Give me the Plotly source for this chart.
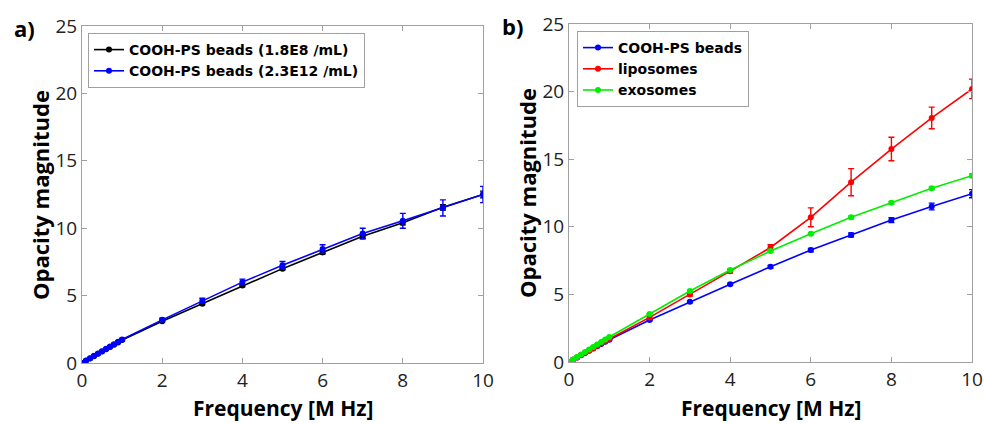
import plotly.graph_objects as go

freq = [0, 0.1, 0.2, 0.3, 0.4, 0.5, 0.6, 0.7, 0.8, 0.9, 1, 2, 3, 4, 5, 6, 7, 8, 9, 10]

# Panel a
beads_low = [0.0, 0.17, 0.34, 0.51, 0.68, 0.85, 1.02, 1.19, 1.36, 1.53, 1.7, 3.1, 4.4, 5.75, 7.0, 8.2, 9.4, 10.4, 11.55, 12.5]
beads_low_err = [0.02, 0.02, 0.02, 0.02, 0.02, 0.03, 0.03, 0.03, 0.03, 0.03, 0.04, 0.05, 0.08, 0.1, 0.1, 0.12, 0.15, 0.15, 0.2, 0.25]
beads_high = [0.0, 0.18, 0.35, 0.53, 0.7, 0.88, 1.05, 1.22, 1.4, 1.57, 1.75, 3.2, 4.62, 6.0, 7.25, 8.45, 9.6, 10.55, 11.5, 12.5]
beads_high_err = [0.03, 0.03, 0.03, 0.04, 0.04, 0.05, 0.05, 0.05, 0.06, 0.06, 0.07, 0.12, 0.18, 0.22, 0.28, 0.32, 0.4, 0.55, 0.6, 0.6]

# Panel b
beads_b = [0.0, 0.17, 0.34, 0.5, 0.67, 0.83, 1.0, 1.16, 1.33, 1.5, 1.65, 3.1, 4.45, 5.75, 7.05, 8.28, 9.4, 10.5, 11.5, 12.45]
beads_b_err = [0.02, 0.02, 0.02, 0.02, 0.02, 0.02, 0.03, 0.03, 0.03, 0.03, 0.03, 0.05, 0.07, 0.08, 0.1, 0.12, 0.15, 0.18, 0.25, 0.3]
lipo = [0.0, 0.17, 0.34, 0.51, 0.68, 0.85, 1.02, 1.19, 1.36, 1.53, 1.7, 3.3, 5.0, 6.72, 8.47, 10.7, 13.3, 15.75, 18.05, 20.2]
lipo_err = [0.02, 0.02, 0.02, 0.02, 0.03, 0.03, 0.03, 0.03, 0.04, 0.04, 0.04, 0.1, 0.12, 0.15, 0.2, 0.7, 1.0, 0.87, 0.8, 0.72]
exo = [0.0, 0.19, 0.37, 0.56, 0.74, 0.93, 1.11, 1.3, 1.48, 1.67, 1.85, 3.55, 5.25, 6.8, 8.21, 9.49, 10.7, 11.78, 12.85, 13.78]
exo_err = [0.02, 0.02, 0.02, 0.02, 0.02, 0.02, 0.03, 0.03, 0.03, 0.03, 0.03, 0.05, 0.06, 0.07, 0.08, 0.08, 0.1, 0.1, 0.1, 0.12]

names_a = ["COOH-PS beads (1.8E8 /mL)", "COOH-PS beads (2.3E12 /mL)"]
names_b = ["COOH-PS beads", "liposomes", "exosomes"]

FONT = "Open Sans"
fig = go.Figure()


def add(x, y, err, name, color, xa, ya, legend):
    fig.add_trace(go.Scatter(
        x=x, y=y, name=name, mode="lines+markers",
        line=dict(color=color, width=1.6),
        marker=dict(color=color, size=6, symbol="circle"),
        error_y=dict(type="data", array=err, visible=True, color=color, thickness=1.4, width=3),
        xaxis=xa, yaxis=ya, legend=legend,
    ))


add(freq, beads_low, beads_low_err, names_a[0], "black", "x", "y", "legend")
add(freq, beads_high, beads_high_err, names_a[1], "#0000ff", "x", "y", "legend")
add(freq, beads_b, beads_b_err, names_b[0], "#0000ff", "x2", "y2", "legend2")
add(freq, lipo, lipo_err, names_b[1], "#ff0000", "x2", "y2", "legend2")
add(freq, exo, exo_err, names_b[2], "#00ee00", "x2", "y2", "legend2")

W, H = 984, 423


def px(x):
    return x / W


def py(y):
    return 1 - y / H


ax_common = dict(
    showline=True, linecolor="#a0a0a0", linewidth=1, mirror="ticks",
    ticks="inside", ticklen=5, tickcolor="#a0a0a0",
    showgrid=False, zeroline=False, automargin=False,
    ticklabeloverflow="allow",
    tickfont=dict(family=FONT, size=19, color="#222"),
)
xa = dict(ax_common, range=[0, 10], tickvals=[0, 2, 4, 6, 8, 10])
ya = dict(ax_common, range=[0, 25], tickvals=[0, 5, 10, 15, 20, 25])

legfont = dict(family="DejaVu Sans", size=14, color="black", weight="bold")
fig.update_layout(
    width=W, height=H,
    margin=dict(l=0, r=0, t=0, b=0, autoexpand=False),
    paper_bgcolor="white", plot_bgcolor="white",
    xaxis=dict(xa, domain=[px(82), px(483)], anchor="y"),
    yaxis=dict(ya, domain=[py(363), py(26)], anchor="x"),
    xaxis2=dict(xa, domain=[px(569), px(972)], anchor="y2"),
    yaxis2=dict(ya, domain=[py(362), py(24)], anchor="x2"),
    legend=dict(x=px(88), y=py(33), xanchor="left", yanchor="top",
                bordercolor="#a0a0a0", borderwidth=1, bgcolor="white",
                font=legfont, tracegroupgap=0, itemwidth=30),
    legend2=dict(x=px(577), y=py(31), xanchor="left", yanchor="top",
                 bordercolor="#a0a0a0", borderwidth=1, bgcolor="white",
                 font=legfont, tracegroupgap=0, itemwidth=30),
    showlegend=True,
)

ann = []
for cx, cy, txt in [((82 + 483) / 2, 408, "Frequency [M Hz]"), ((569 + 972) / 2, 408, "Frequency [M Hz]")]:
    ann.append(dict(x=px(cx), y=py(cy), xref="paper", yref="paper", text=txt, showarrow=False,
                    font=dict(family=FONT, size=21, color="black", weight="bold"), xanchor="center", yanchor="middle"))
for cx, cy in [(40, 195), (527, 193)]:
    ann.append(dict(x=px(cx), y=py(cy), xref="paper", yref="paper", text="Opacity magnitude", showarrow=False,
                    textangle=-90, font=dict(family=FONT, size=22, color="black", weight="bold"),
                    xanchor="center", yanchor="middle"))
for cx, cy, txt in [(24, 28, "a)"), (512, 26, "b)")]:
    ann.append(dict(x=px(cx), y=py(cy), xref="paper", yref="paper", text=txt, showarrow=False,
                    font=dict(family=FONT, size=22, color="black", weight="bold"), xanchor="center", yanchor="middle"))
fig.update_layout(annotations=ann)

fig.write_html("out.html", config={"displayModeBar": False},
               post_script="document.body.style.margin='0';document.body.style.overflow='hidden';")
